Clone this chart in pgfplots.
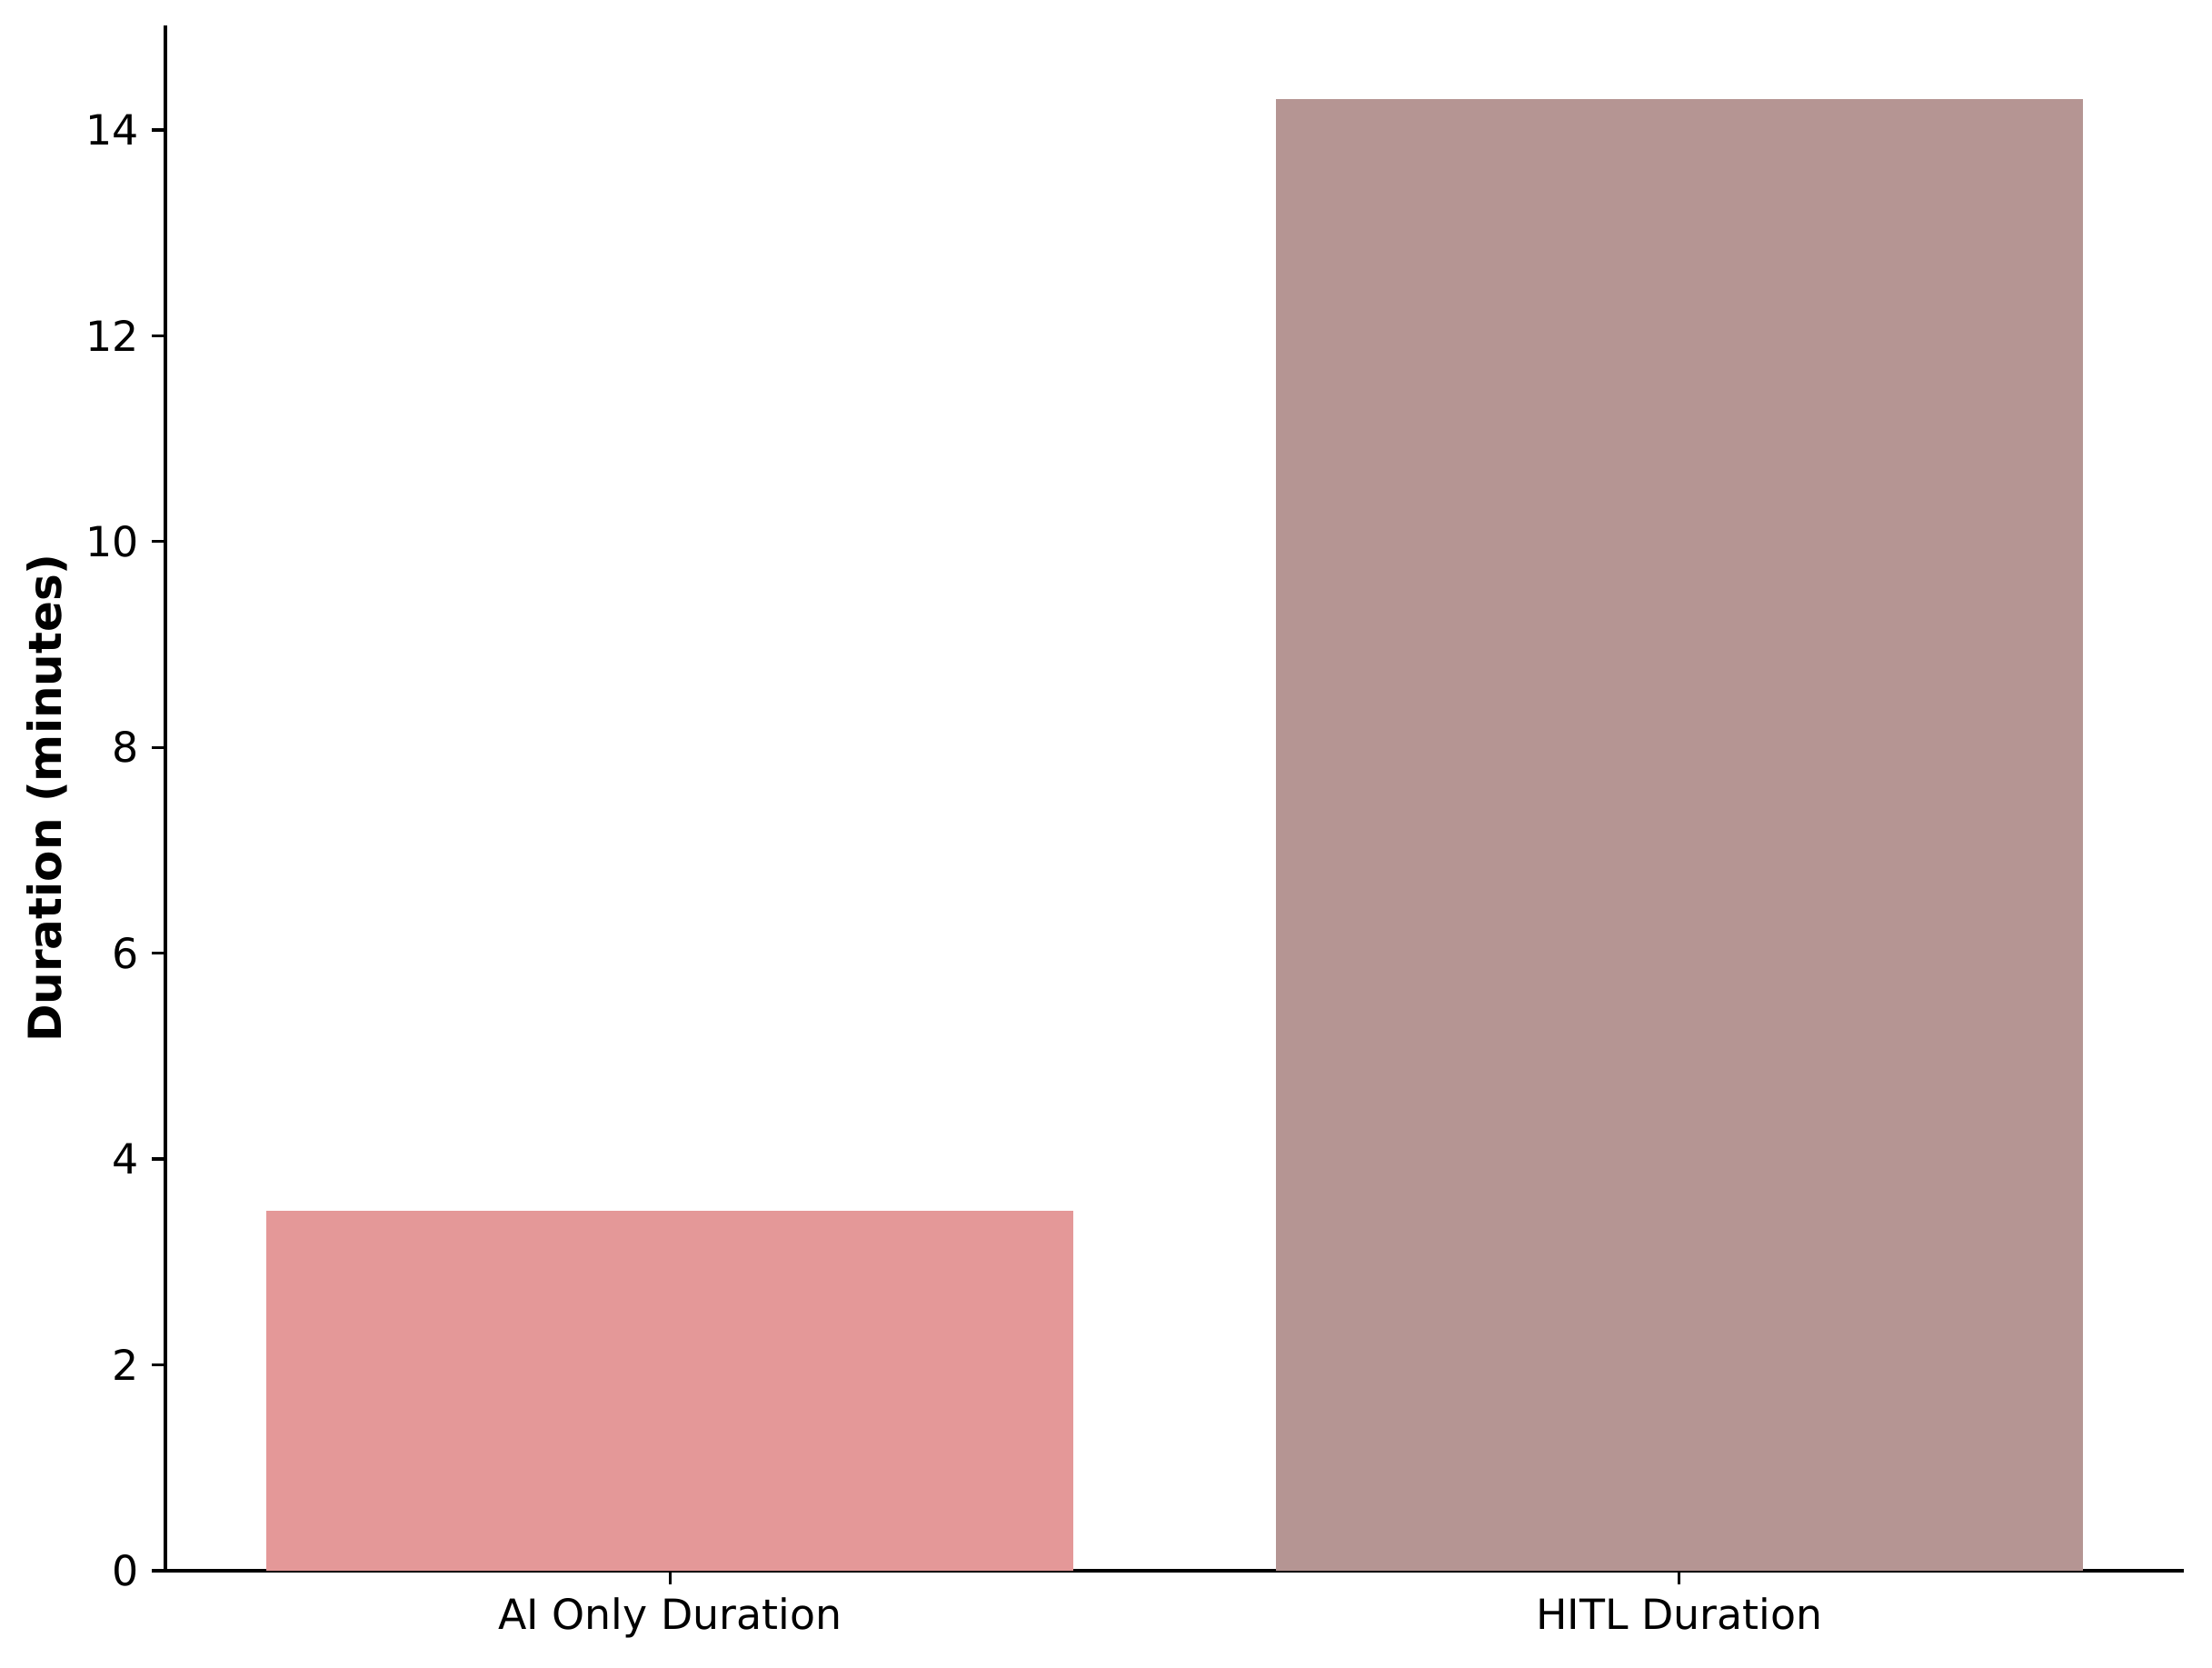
\documentclass[border=0pt]{standalone}
\usepackage{fontspec}
\setmainfont{DejaVu Sans}
\usepackage{pgfplots}
\pgfplotsset{compat=1.18}

\definecolor{aibar}{HTML}{E49898}
\definecolor{hitlbar}{HTML}{B59593}

\begin{document}
\begin{tikzpicture}
\begin{axis}[
    scale only axis,
    width=533.04pt, height=408pt,
    xmin=-0.5, xmax=1.5,
    ymin=0, ymax=15.015,
    xtick={0,1},
    xticklabels={AI Only Duration, HITL Duration},
    ytick={0,2,4,6,8,10,12,14},
    axis x line*=bottom,
    axis y line*=left,
    axis line style={line width=0.8pt},
    tick align=outside,
    major tick length=3.5pt,
    every tick/.style={black, line width=0.8pt},
    ticklabel style={font=\fontsize{11}{13}\selectfont},
    /pgf/number format/assume math mode=true,
    ylabel={Duration (minutes)},
    ylabel style={font=\fontsize{12}{14}\selectfont\bfseries,
        at={(axis description cs:-0.0482,0.5)}, anchor=south, rotate=0, inner sep=0pt},
    ybar, bar width=0.8,
]
\addplot[fill=aibar, draw=none, bar shift=0pt] coordinates {(0,3.5)};
\addplot[fill=hitlbar, draw=none, bar shift=0pt] coordinates {(1,14.3)};
\end{axis}
\pgfresetboundingbox
\path ([xshift=-43.68pt,yshift=-25.44pt]current axis.south west)
    rectangle ([xshift=7.44pt,yshift=6.72pt]current axis.north east);
\end{tikzpicture}
\end{document}
